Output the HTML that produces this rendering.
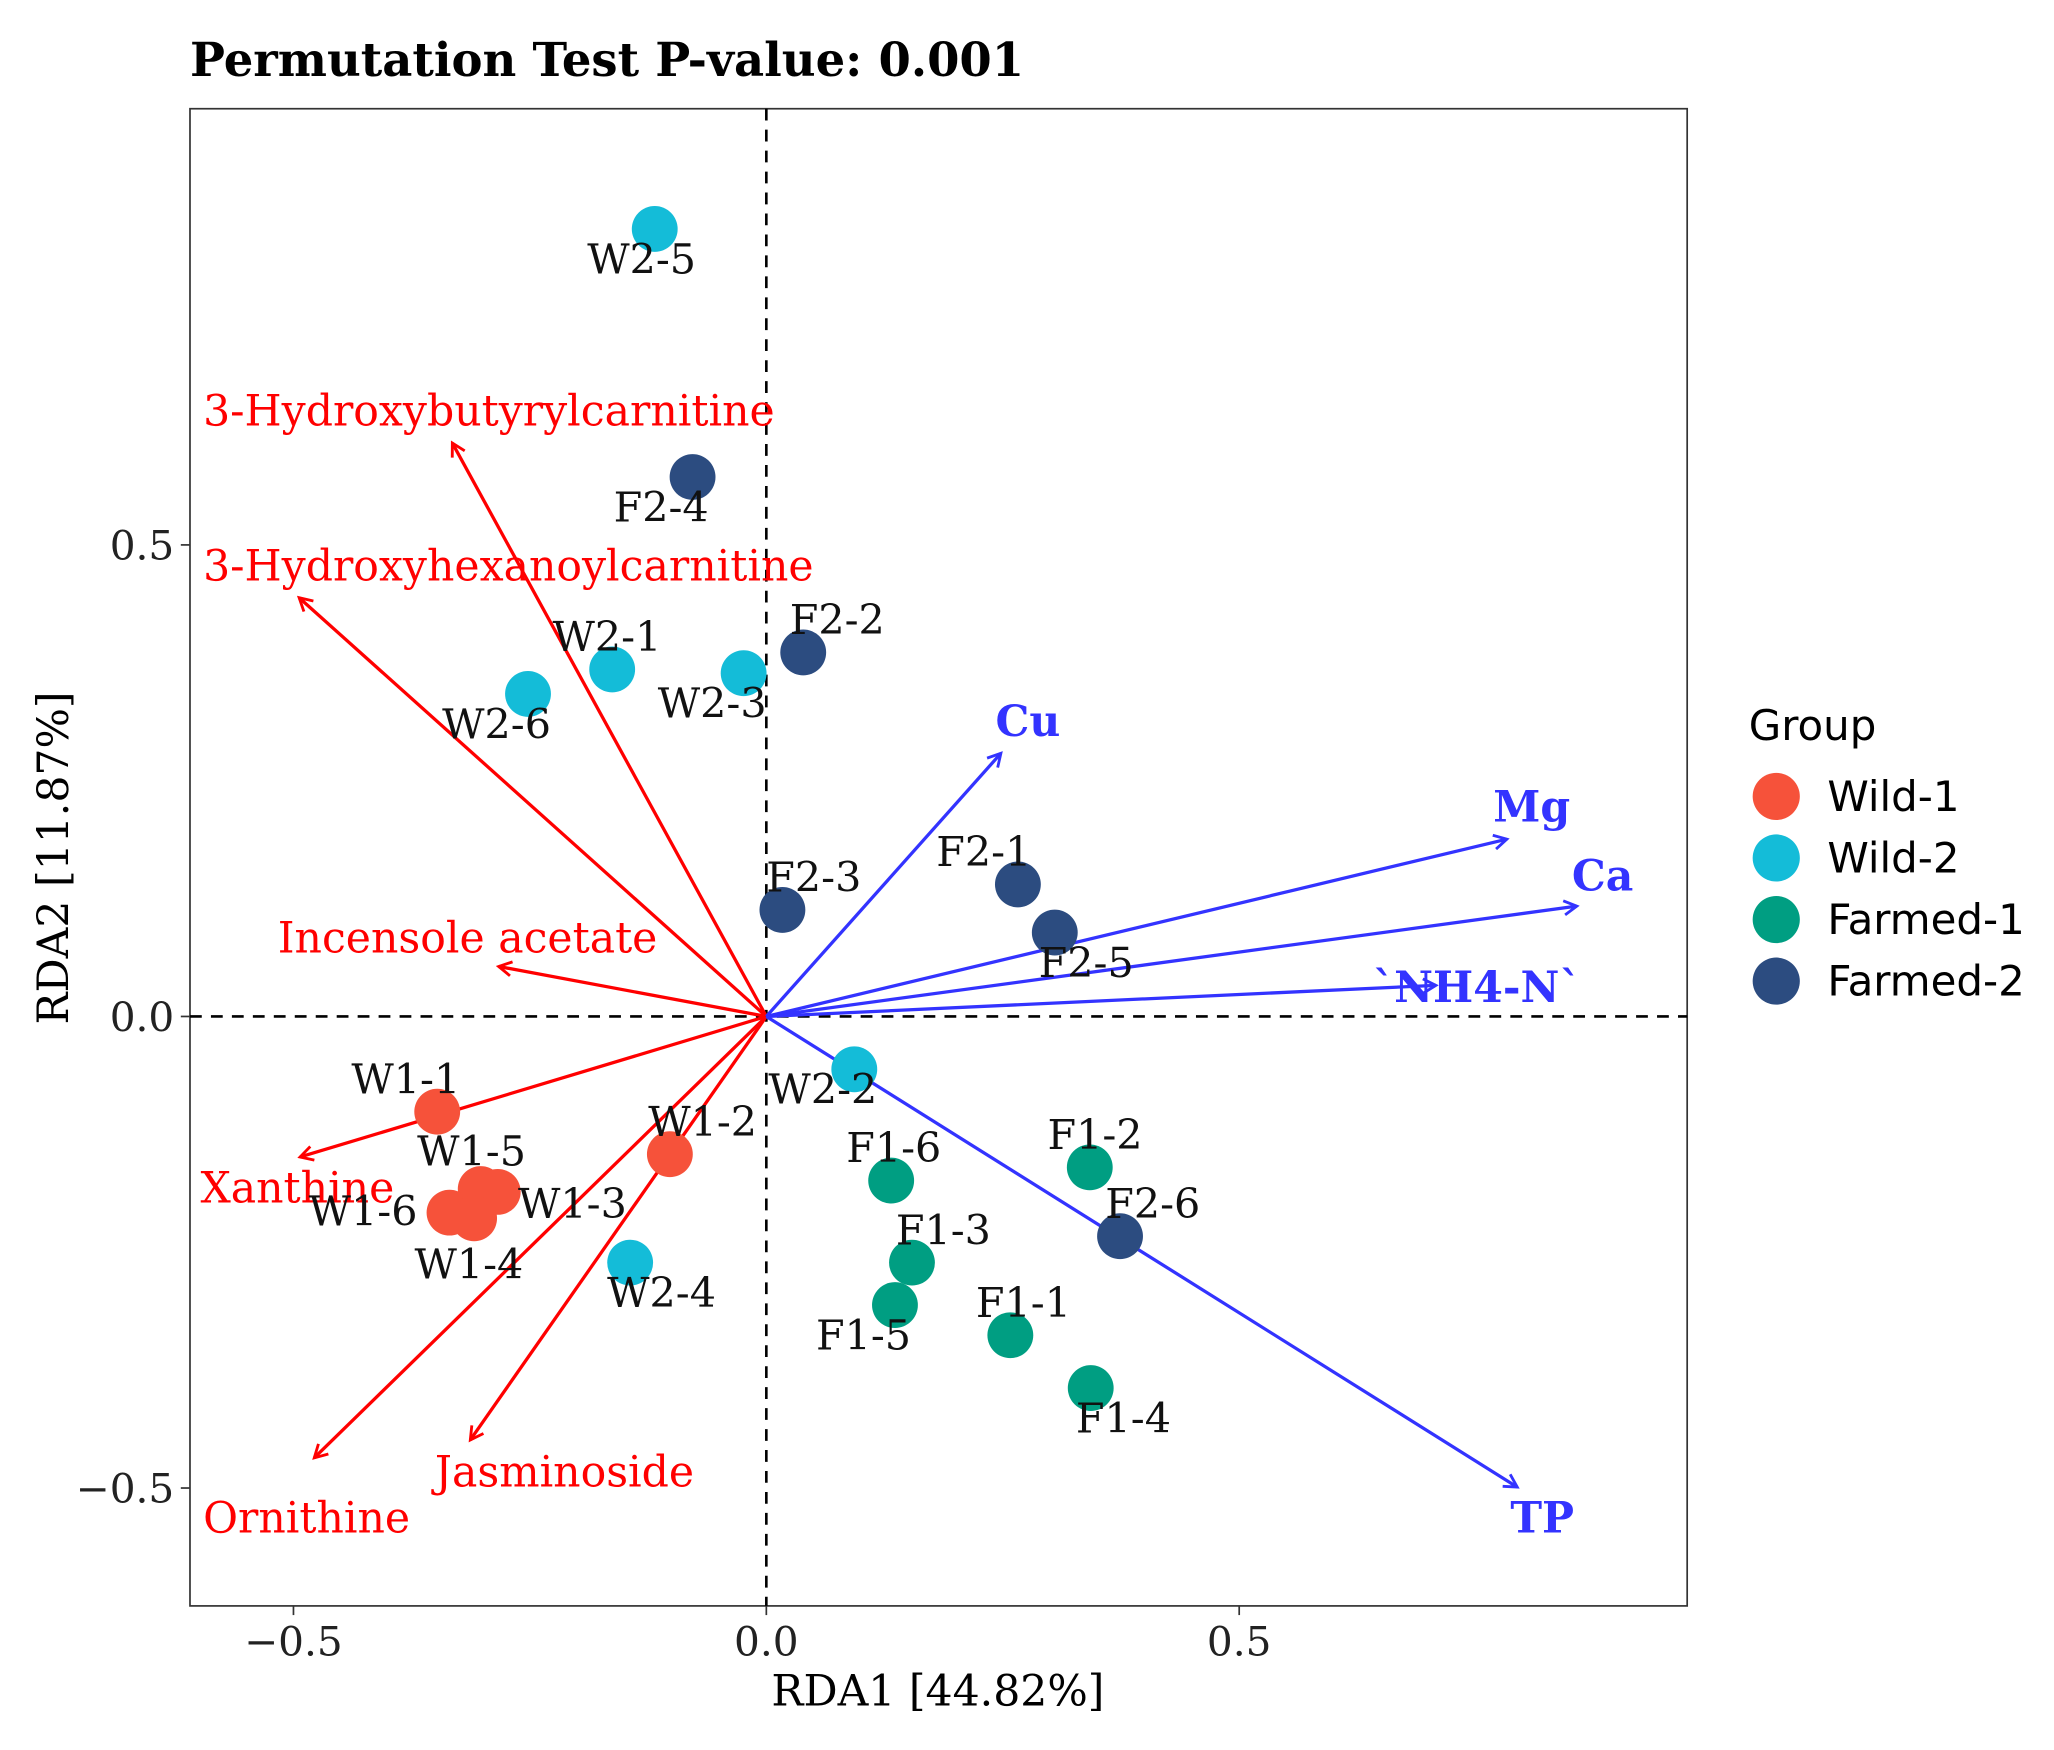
<!DOCTYPE html>
<html><head><meta charset="utf-8"><style>
html,body{margin:0;padding:0;background:#fff;}
svg{display:block;}
</style></head><body>
<svg id="chart" width="2054" height="1750" viewBox="0 0 1568 1336" xmlns="http://www.w3.org/2000/svg">
<defs>
<marker id="ahR" viewBox="0 0 12 12" refX="10" refY="6" markerWidth="13" markerHeight="13" markerUnits="userSpaceOnUse" orient="auto"><path d="M1,1 L10,6 L1,11" fill="none" stroke="#ff0000" stroke-width="2"/></marker>
<marker id="ahB" viewBox="0 0 12 12" refX="10" refY="6" markerWidth="13" markerHeight="13" markerUnits="userSpaceOnUse" orient="auto"><path d="M1,1 L10,6 L1,11" fill="none" stroke="#3333ff" stroke-width="2"/></marker>
</defs>
<text x="145" y="58" font-family="'DejaVu Serif','Liberation Serif',serif" font-weight="bold" font-size="35.5">Permutation Test P-value: 0.001</text>
<rect x="145" y="83" width="1143" height="1143" fill="#fff" stroke="#333" stroke-width="1.3"/>
<g id="axes"></g>
<g id="arrows"></g>
<g id="points"></g>
<g id="labels"></g>
<text x="716" y="1302" text-anchor="middle" font-family="'DejaVu Serif','Liberation Serif',serif" font-size="32.5">RDA1 [44.82%]</text>
<text transform="translate(52,655) rotate(-90)" text-anchor="middle" font-family="'DejaVu Serif','Liberation Serif',serif" font-size="32.5">RDA2 [11.87%]</text>
<g id="legend">
<text x="1335" y="565" font-family="'DejaVu Sans','Liberation Sans',sans-serif" font-size="32">Group</text>
</g>
</svg>
<script>
const xTicks=[-0.5,0,0.5];
const xTickLabels=["\u22120.5","0.0","0.5"];
const yTicks=[-0.5,0,0.5];
const yTickLabels=["\u22120.5","0.0","0.5"];
const groups=["Wild-1","Wild-2","Farmed-1","Farmed-2"];
const groupColors=["#F6523A","#14BCD8","#009E82","#2C4C80"];
const sampleNames=["W2-5","F2-4","W2-1","W2-6","W2-3","F2-2","F2-3","F2-1","F2-5","W2-2","F1-2","F2-6","F1-6","F1-3","F1-5","F1-1","F1-4","W2-4","W1-1","W1-2","W1-5","W1-3","W1-6","W1-4"];
const sampleGroup=[1,3,1,1,1,3,3,3,3,1,2,3,2,2,2,2,2,1,0,0,0,0,0,0];
const rda1=[-0.118,-0.078,-0.163,-0.252,-0.024,0.039,0.017,0.266,0.305,0.093,0.342,0.374,0.132,0.154,0.136,0.258,0.343,-0.144,-0.348,-0.102,-0.302,-0.284,-0.335,-0.309];
const rda2=[0.835,0.572,0.368,0.342,0.364,0.386,0.113,0.140,0.089,-0.056,-0.160,-0.233,-0.174,-0.261,-0.306,-0.338,-0.394,-0.261,-0.101,-0.146,-0.183,-0.186,-0.208,-0.214];
const labelDx=[-10,-24,-4,-24,-24,26,24,-26,24,-24,4,25,2,24,-24,10,25,24,-24,25,-7,57,-66,-4];
const labelDy=[34,34,-14,34,34,-14,-14,-14,34,26,-14,-14,-14,-14,34,-14,34,34,-14,-14,-18,20,10,46];
const vecNames=["3-Hydroxybutyrylcarnitine","3-Hydroxyhexanoylcarnitine","Incensole acetate","Xanthine","Ornithine","Jasminoside","Cu","Mg","Ca","`NH4-N`","TP"];
const vecX=[-0.332,-0.494,-0.283,-0.493,-0.478,-0.313,0.248,0.783,0.857,0.708,0.794];
const vecY=[0.608,0.444,0.053,-0.149,-0.468,-0.449,0.279,0.188,0.117,0.033,-0.499];
const vecType=[0,0,0,0,0,0,1,1,1,1,1];
const vecLabX=[155,155,212,153,155,332,760,1140,1200,1048,1153];
const vecLabY=[325,443,727,918,1170,1135,562,627,680,765,1170];

const NS="http://www.w3.org/2000/svg";
const X0=585, XS=722, Y0=776, YS=720;
const sx=v=>X0+v*XS, sy=v=>Y0-v*YS;
function mk(tag,attrs,parent,text){const e=document.createElementNS(NS,tag);for(const k in attrs)e.setAttribute(k,attrs[k]);if(text!==undefined)e.textContent=text;parent.appendChild(e);return e;}
const ax=document.getElementById('axes');
const serif="'DejaVu Serif','Liberation Serif',serif";
xTicks.forEach((t,i)=>{
 const l=mk('line',{x1:sx(t),x2:sx(t),y1:1226,y2:1233,stroke:'#333','stroke-width':1.3},ax);
 
 
 const tx=mk('text',{x:sx(t),y:1264,'text-anchor':'middle','font-family':serif,'font-size':31,fill:'#222'},ax,xTickLabels[i]);
 
 
});
yTicks.forEach((t,i)=>{
 const l=mk('line',{x1:138,x2:145,y1:sy(t),y2:sy(t),stroke:'#333','stroke-width':1.3},ax);
 
 
 const tx=mk('text',{x:133,y:sy(t)+11,'text-anchor':'end','font-family':serif,'font-size':31,fill:'#222'},ax,yTickLabels[i]);
 
 
});
const hz=mk('line',{x1:145,x2:1288,y1:sy(0),y2:sy(0),stroke:'#000','stroke-width':2,'stroke-dasharray':'9,7'},ax);


const vz=mk('line',{x1:sx(0),x2:sx(0),y1:83,y2:1226,stroke:'#000','stroke-width':2,'stroke-dasharray':'9,7'},ax);



const ar=document.getElementById('arrows'), lb=document.getElementById('labels');
vecNames.forEach((n,i)=>{
 const c=vecType[i]?'#3333ff':'#ff0000';
 const l=mk('line',{x1:sx(0),y1:sy(0),x2:sx(vecX[i]),y2:sy(vecY[i]),stroke:c,'stroke-width':2.5,'marker-end':vecType[i]?'url(#ahB)':'url(#ahR)'},ar);
 
 
 const t=mk('text',{x:vecLabX[i],y:vecLabY[i],'font-family':serif,'font-size':32.5,'font-weight':vecType[i]?'bold':'normal',fill:vecType[i]?'#3333ff':'#ff0000'},lb,n);
 
 
});
const pt=document.getElementById('points');
sampleNames.forEach((n,i)=>{
 const x=sx(rda1[i]),y=sy(rda2[i]);
 const c=mk('circle',{cx:x,cy:y,r:17.5,fill:groupColors[sampleGroup[i]]},pt);
 
 
 const t=mk('text',{x:x+labelDx[i],y:y+labelDy[i],'text-anchor':'middle','font-family':serif,'font-size':31.5,fill:'#111'},lb,n);
 
 
});
const lg=document.getElementById('legend');
groups.forEach((g,i)=>{
 const y=608+i*47;
 const c=mk('circle',{cx:1356,cy:y,r:18,fill:groupColors[i]},lg);
 
 
 const t=mk('text',{x:1395,y:y+11,'font-family':"'DejaVu Sans','Liberation Sans',sans-serif",'font-size':32},lg,g);
 
 
});
</script>
</body></html>
